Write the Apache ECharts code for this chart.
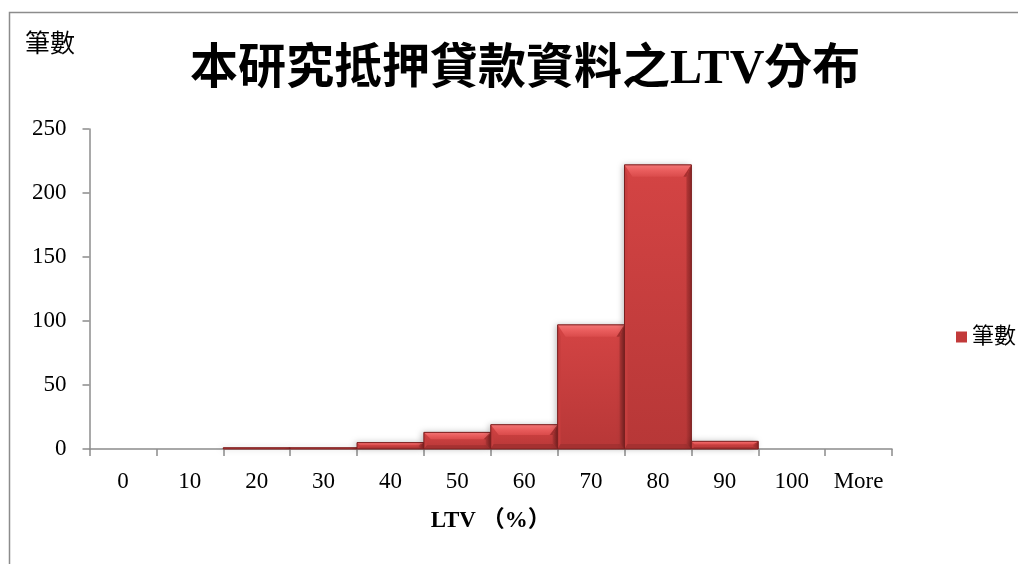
<!DOCTYPE html>
<html>
<head>
<meta charset="utf-8">
<script src="https://cdn.jsdelivr.net/npm/echarts@6/dist/echarts.min.js"></script>
<style>
  html, body { margin: 0; padding: 0; background: #fff; }
  #chart { width: 1018px; height: 564px; }
</style>
</head>
<body>
<div id="chart"></div>
<script>
// LTV bins (%) and number of loans in each bin
const categories = ['0', '10', '20', '30', '40', '50', '60', '70', '80', '90', '100', 'More'];
const counts = [0, 0, 1, 1, 5, 13, 19, 97, 222, 6, 0, 0];
const yTicks = { min: 0, max: 250, interval: 50 };

const seriesName = '筆數';
const titleText = '本研究抵押貸款資料之LTV分布';
const xName = 'LTV （%）';

const serif = '"Liberation Serif", "Times New Roman", "Noto Sans CJK TC", serif';

const chart = echarts.init(document.getElementById('chart'), null, { renderer: 'canvas' });

// Bevelled histogram column: face, lighter top bevel, thin side edges, darker foot
function renderBevelBar(params, api) {
  const idx = api.value(0);
  const val = api.value(1);
  const top = api.coord([idx, val]);
  const base = api.coord([idx, 0]);
  const w = api.size([1, 0])[0];
  const x0 = top[0] - w / 2;
  const x1 = x0 + w;
  const y0 = top[1];
  const y1 = base[1];
  const h = y1 - y0;
  if (!(h > 0)) return null;

  const bt = Math.min(12, h * 0.42);   // top bevel depth
  const bx = Math.min(8, w / 6, bt);    // diagonal run at top corners
  const bs = Math.min(3, w / 10);       // side edge strip
  const bb = Math.min(5, h * 0.22);     // bottom shading band

  const children = [
    {
      type: 'rect',
      shape: { x: x0, y: y0, width: w, height: h },
      style: {
        fill: new echarts.graphic.LinearGradient(0, 0, 0, 1, [
          { offset: 0, color: '#d44444' },
          { offset: 1, color: '#b73737' }
        ]),
        shadowColor: 'rgba(0,0,0,0.28)',
        shadowBlur: 6,
        shadowOffsetX: -2
      }
    },
    // left edge strip
    {
      type: 'polygon',
      shape: { points: [[x0, y0], [x0 + bs, y0 + bt], [x0 + bs, y1 - bb], [x0, y1]] },
      style: { fill: '#c53e3e' }
    },
    // right edge strip (shaded)
    {
      type: 'polygon',
      shape: { points: [[x1, y0], [x1 - bs - 2, y0 + bt], [x1 - bs - 2, y1 - bb], [x1, y1]] },
      style: {
        fill: new echarts.graphic.LinearGradient(0, 0, 1, 0, [
          { offset: 0, color: '#b33636' },
          { offset: 1, color: '#8c2727' }
        ])
      }
    },
    // bottom band
    {
      type: 'polygon',
      shape: { points: [[x0, y1], [x0 + bs, y1 - bb], [x1 - bs - 2, y1 - bb], [x1, y1]] },
      style: { fill: '#a53131' }
    },
    // top bevel
    {
      type: 'polygon',
      shape: { points: [[x0, y0], [x1, y0], [x1 - bx, y0 + bt], [x0 + bx, y0 + bt]] },
      style: {
        fill: new echarts.graphic.LinearGradient(0, 0, 0, 1, [
          { offset: 0, color: '#f27575' },
          { offset: 0.45, color: '#ea5e5e' },
          { offset: 1, color: '#da4b4b' }
        ])
      }
    },
    // top-right corner shading
    {
      type: 'polygon',
      shape: { points: [[x1, y0], [x1 - bx, y0 + bt], [x1 - bs - 2, y0 + bt]] },
      style: { fill: '#a83030' }
    },
    // outline
    {
      type: 'rect',
      shape: { x: x0, y: y0, width: w, height: h },
      style: { fill: null, stroke: '#7a1f1f', lineWidth: 1 }
    }
  ];
  return { type: 'group', children: children };
}

chart.setOption({
  backgroundColor: '#ffffff',
  animation: false,
  title: [
    {
      text: titleText,
      left: 185,
      top: 42,
      textStyle: {
        fontFamily: serif,
        fontWeight: 'bold',
        fontSize: 48,
        color: '#000'
      }
    },
    {
      text: seriesName,
      left: 20,
      top: 28,
      textStyle: {
        fontFamily: serif,
        fontWeight: 'normal',
        fontSize: 25,
        color: '#000'
      }
    }
  ],
  legend: {
    data: [seriesName],
    left: 951,
    top: 321,
    itemWidth: 11,
    itemHeight: 11,
    itemGap: 4,
    icon: 'rect',
    textStyle: { fontFamily: serif, fontSize: 22, color: '#000' }
  },
  grid: {
    left: 89.5,
    right: 126,
    top: 129,
    bottom: 115
  },
  xAxis: {
    type: 'category',
    data: categories,
    name: xName,
    nameLocation: 'middle',
    nameGap: 61,
    nameTextStyle: {
      fontFamily: serif,
      fontWeight: 'bold',
      fontSize: 23,
      color: '#000'
    },
    axisLine: { lineStyle: { color: '#8c8c8c', width: 1.5 } },
    axisTick: { show: true, length: 7, lineStyle: { color: '#8c8c8c', width: 1.5 } },
    axisLabel: {
      fontFamily: serif,
      fontSize: 23,
      color: '#000',
      margin: 21,
      interval: 0
    },
    splitLine: { show: false }
  },
  yAxis: {
    type: 'value',
    min: yTicks.min,
    max: yTicks.max,
    interval: yTicks.interval,
    axisLine: { show: true, lineStyle: { color: '#8c8c8c', width: 1.5 } },
    axisTick: { show: true, length: 7, lineStyle: { color: '#8c8c8c', width: 1.5 } },
    axisLabel: {
      fontFamily: serif,
      fontSize: 23,
      color: '#000',
      margin: 23
    },
    splitLine: { show: false }
  },
  series: [
    {
      name: seriesName,
      type: 'custom',
      renderItem: renderBevelBar,
      encode: { x: 0, y: 1 },
      itemStyle: { color: '#c23a3a' },
      data: counts.map((v, i) => [i, v]),
      z: 2
    }
  ],
  graphic: [
    {
      type: 'polyline',
      shape: { points: [[9.5, 564], [9.5, 12.5], [1018, 12.5]] },
      style: { stroke: '#8c8c8c', lineWidth: 1.5, fill: null },
      silent: true
    }
  ]
});
</script>
</body>
</html>
